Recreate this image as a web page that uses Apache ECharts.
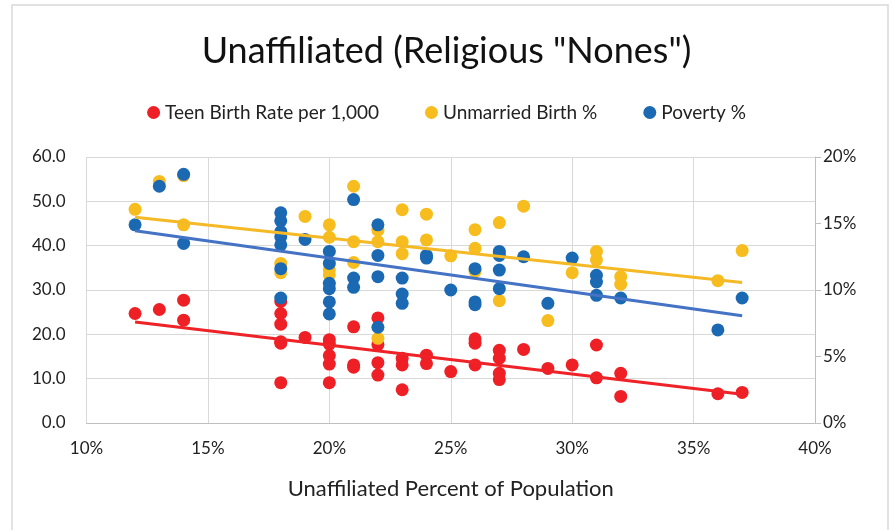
<!DOCTYPE html>
<html>
<head>
<meta charset="utf-8">
<script src="https://cdn.jsdelivr.net/npm/echarts@6/dist/echarts.min.js"></script>
<style>
  html, body { margin: 0; padding: 0; background: #fff; }
  #chart { width: 893px; height: 530px; }
</style>
</head>
<body>
<div id="chart"></div>
<script>
// points are [unaffiliated %, value]
const teenBirth = [
  [12, 24.7], [13, 25.6], [14, 27.7], [14, 23.2],
  [18, 27.4], [18, 24.7], [18, 22.3], [18, 18.3], [18, 18.0], [18, 9.1],
  [19, 19.3],
  [20, 18.8], [20, 17.8], [20, 15.2], [20, 13.3], [20, 9.1],
  [21, 21.7], [21, 13.1], [21, 12.6],
  [22, 23.7], [22, 17.7], [22, 13.6], [22, 10.8],
  [23, 14.6], [23, 13.1], [23, 7.5],
  [24, 15.3], [24, 13.4],
  [25, 11.6],
  [26, 19.0], [26, 18.0], [26, 13.1],
  [27, 16.4], [27, 14.6], [27, 11.2], [27, 9.8],
  [28, 16.6], [29, 12.3], [30, 13.1],
  [31, 17.6], [31, 10.2],
  [32, 11.2], [32, 6.0],
  [36, 6.6], [37, 6.9]
];
const unmarriedBirth = [
  [12, 48.2], [13, 54.5], [14, 55.8], [14, 44.7],
  [18, 36.0], [18, 33.9],
  [19, 46.6],
  [20, 44.7], [20, 41.9], [20, 34.5], [20, 33.4],
  [21, 53.4], [21, 40.9], [21, 36.2],
  [22, 43.5], [22, 40.9], [22, 19.1],
  [23, 48.1], [23, 40.9], [23, 38.2],
  [24, 47.1], [24, 41.3],
  [25, 37.7],
  [26, 43.6], [26, 39.4], [26, 34.2],
  [27, 45.2], [27, 38.3], [27, 27.6],
  [28, 48.9], [29, 23.1], [30, 33.9],
  [31, 38.7], [31, 36.8],
  [32, 33.0], [32, 31.3],
  [36, 32.1], [37, 38.9]
];
// poverty in percent, right axis
const poverty = [
  [12, 14.9], [13, 17.8], [14, 18.7], [14, 13.5],
  [18, 15.8], [18, 15.2], [18, 14.4], [18, 14.0], [18, 13.4], [18, 11.6], [18, 9.4],
  [19, 13.8],
  [20, 12.9], [20, 12.0], [20, 10.5], [20, 10.1], [20, 9.1], [20, 8.2],
  [21, 16.8], [21, 10.9], [21, 10.2],
  [22, 14.9], [22, 12.6], [22, 11.0], [22, 7.2],
  [23, 10.9], [23, 9.7], [23, 9.0],
  [24, 12.6], [24, 12.4],
  [25, 10.0],
  [26, 11.6], [26, 9.1], [26, 8.9],
  [27, 12.9], [27, 12.6], [27, 11.5], [27, 10.1],
  [28, 12.5], [29, 9.0], [30, 12.4],
  [31, 11.1], [31, 10.6], [31, 9.6],
  [32, 9.4],
  [36, 7.0], [37, 9.4]
];
// trend line ends
const teenTrend = [[12, 22.8], [37, 6.5]];
const unmarriedTrend = [[12, 46.4], [37, 31.7]];
const povertyTrend = [[12, 14.45], [37, 8.07]];

const seriesNames = ['Teen Birth Rate per 1,000', 'Unmarried Birth %', 'Poverty %'];

const font = 'Lato, "Open Sans", sans-serif';
const red = '#EE1F25', yellow = '#F7BD1E', blue = '#1A69B2';

const chart = echarts.init(document.getElementById('chart'));

const option = {
  animation: false,
  textStyle: { fontFamily: font, color: '#222' },
  graphic: [{
    type: 'rect',
    shape: { x: 12, y: 5, width: 876, height: 540 },
    style: { fill: 'none', stroke: '#d9d9d9', lineWidth: 1.5 },
    silent: true
  }],
  title: {
    text: 'Unaffiliated (Religious "Nones")',
    left: 'center',
    top: 28,
    textStyle: { fontFamily: font, fontSize: 36, fontWeight: 'normal', color: '#111' }
  },
  legend: {
    data: seriesNames,
    top: 98,
    left: 'center',
    icon: 'circle',
    itemWidth: 13,
    itemHeight: 13,
    itemGap: 46,
    textStyle: { fontFamily: font, fontSize: 19, color: '#222' }
  },
  grid: { left: 86.5, right: 78, top: 157, bottom: 107 },
  xAxis: {
    type: 'value',
    min: 10, max: 40, interval: 5,
    name: 'Unaffiliated Percent of Population',
    nameLocation: 'middle',
    nameGap: 55,
    nameTextStyle: { fontFamily: font, fontSize: 22, color: '#222' },
    axisLine: { lineStyle: { color: '#bfbfbf' } },
    axisTick: { show: false },
    axisLabel: { formatter: '{value}%', fontSize: 17, color: '#222', margin: 17 },
    splitLine: { lineStyle: { color: '#d9d9d9', width: 1 } }
  },
  yAxis: [{
    type: 'value',
    min: 0, max: 60, interval: 10,
    axisLine: { show: false },
    axisTick: { show: false },
    axisLabel: { formatter: v => v.toFixed(1), fontSize: 17, color: '#222', margin: 21 },
    splitLine: { lineStyle: { color: '#d9d9d9', width: 1 } }
  }, {
    type: 'value',
    min: 0, max: 20, interval: 5,
    position: 'right',
    axisLine: { show: true, lineStyle: { color: '#bfbfbf' } },
    axisTick: { show: true, length: 6, lineStyle: { color: '#bfbfbf' } },
    axisLabel: { formatter: '{value}%', fontSize: 17, color: '#222', margin: 8 },
    splitLine: { show: false }
  }],
  series: [
    {
      name: seriesNames[0], type: 'scatter', data: teenBirth,
      symbolSize: 13, itemStyle: { color: red, opacity: 1 }, z: 2
    },
    {
      name: seriesNames[1], type: 'scatter', data: unmarriedBirth,
      symbolSize: 13, itemStyle: { color: yellow, opacity: 1 }, z: 3
    },
    {
      name: seriesNames[2], type: 'scatter', data: poverty, yAxisIndex: 1,
      symbolSize: 13, itemStyle: { color: blue, opacity: 1 }, z: 4
    },
    {
      type: 'line', data: teenTrend, symbol: 'none', silent: true, z: 5,
      lineStyle: { color: '#EE2227', width: 3 }
    },
    {
      type: 'line', data: unmarriedTrend, symbol: 'none', silent: true, z: 5,
      lineStyle: { color: '#F5B925', width: 3 }
    },
    {
      type: 'line', data: povertyTrend, yAxisIndex: 1, symbol: 'none', silent: true, z: 5,
      lineStyle: { color: '#4472C4', width: 3 }
    }
  ]
};

chart.setOption(option);
</script>
</body>
</html>
